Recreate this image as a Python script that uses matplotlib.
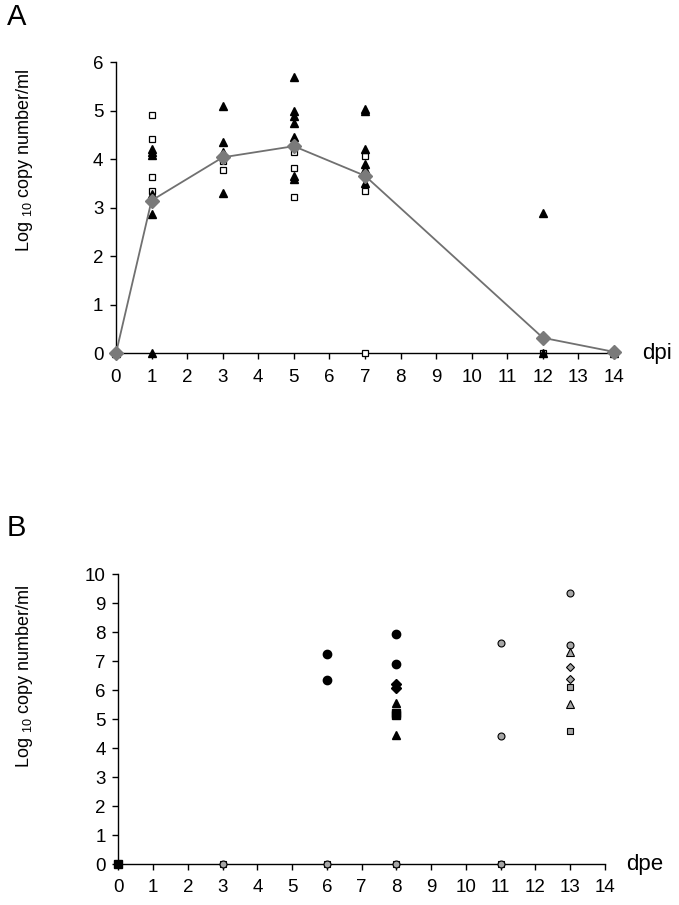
import matplotlib
matplotlib.use("Agg")
import matplotlib.pyplot as plt

plt.rcParams['font.family'] = ['Liberation Sans', 'DejaVu Sans']
plt.rcParams['mathtext.fontset'] = 'custom'
plt.rcParams['mathtext.rm'] = 'Liberation Sans'

# Panel A: dpi, individual values (triangles / open squares) and mean
tri_a_days = [0, 1, 1, 1, 1, 1, 1, 3, 3, 3, 3, 3, 5, 5, 5, 5, 5, 5, 5, 7, 7, 7, 7, 7, 7, 12, 12, 14]
tri_a_vals = [0, 4.22, 4.16, 4.09, 3.29, 2.88, 0, 5.10, 4.35, 4.16, 4.06, 3.30,
              5.70, 5.00, 4.90, 4.75, 4.46, 3.65, 3.59, 5.04, 5.00, 4.21, 3.90, 3.80, 3.51,
              2.89, 0, 0]
sq_a_days = [0, 1, 1, 1, 1, 3, 3, 5, 5, 5, 7, 7, 7, 12, 14]
sq_a_vals = [0, 4.92, 4.42, 3.63, 3.34, 3.97, 3.77, 4.16, 3.82, 3.23, 4.07, 3.34, 0, 0, 0]
mean_days = [0, 1, 3, 5, 7, 12, 14]
mean_vals = [0, 3.15, 4.04, 4.27, 3.66, 0.32, 0.03]

# Panel B: dpe
blk_circ_days = [6, 6, 8, 8]
blk_circ_vals = [7.25, 6.34, 7.93, 6.92]
blk_diam_days = [8, 8]
blk_diam_vals = [6.20, 6.09]
blk_tri_days = [8, 8]
blk_tri_vals = [5.57, 4.45]
blk_sq_days = [0, 8, 8]
blk_sq_vals = [0, 5.20, 5.13]
gry_sq_days = [3, 6, 8, 11, 13, 13]
gry_sq_vals = [0, 0, 0, 0, 6.10, 4.60]
gry_circ_days = [3, 6, 8, 11, 11, 11, 13, 13]
gry_circ_vals = [0, 0, 0, 0, 7.64, 4.43, 9.34, 7.56]
gry_tri_days = [13, 13]
gry_tri_vals = [7.33, 5.52]
gry_diam_days = [13, 13]
gry_diam_vals = [6.81, 6.39]

fig = plt.figure(figsize=(6.79, 9.05), dpi=100)
ax1 = fig.add_axes([0.1708, 0.6096, 0.7335, 0.3216])
ax2 = fig.add_axes([0.1742, 0.0453, 0.7168, 0.3201])

gray = '#a6a6a6'

def style(ax, ymax):
    ax.set_xlim(0, 14)
    ax.set_ylim(0, ymax)
    ax.set_xticks(range(0, 15))
    ax.set_yticks(range(0, ymax + 1))
    for s in ['top', 'right']:
        ax.spines[s].set_visible(False)
    for s in ['left', 'bottom']:
        ax.spines[s].set_linewidth(1.0)
    ax.tick_params(direction='out', length=4, width=1.0, labelsize=13.5)
    ax.tick_params(axis='x', pad=7)
    ax.tick_params(axis='y', pad=5)
    ax.set_facecolor('none')

style(ax1, 6)
ax1.plot(sq_a_days, sq_a_vals, 's', ms=5, mfc='white', mec='black', mew=0.9, ls='none', clip_on=False, zorder=3)
ax1.plot(tri_a_days, tri_a_vals, '^', ms=6, color='black', ls='none', clip_on=False, zorder=4)
ax1.plot(mean_days, mean_vals, '-', color='#707070', lw=1.3, marker='D', ms=7,
         mfc='#7a7a7a', mec='#7a7a7a', clip_on=False, zorder=5)
ax1.text(14.8, 0, 'dpi', fontsize=16, va='center', ha='left')

style(ax2, 10)
ax2.plot(gry_sq_days, gry_sq_vals, 's', ms=5, mfc=gray, mec='black', mew=0.8, ls='none', clip_on=False, zorder=3)
ax2.plot(gry_circ_days, gry_circ_vals, 'o', ms=5, mfc=gray, mec='black', mew=0.8, ls='none', clip_on=False, zorder=4)
ax2.plot(gry_tri_days, gry_tri_vals, '^', ms=5.5, mfc=gray, mec='black', mew=0.8, ls='none', clip_on=False, zorder=4)
ax2.plot(gry_diam_days, gry_diam_vals, 'D', ms=4.5, mfc=gray, mec='black', mew=0.8, ls='none', clip_on=False, zorder=4)
ax2.plot(blk_circ_days, blk_circ_vals, 'o', ms=6, color='black', ls='none', clip_on=False, zorder=4)
ax2.plot(blk_diam_days, blk_diam_vals, 'D', ms=5, color='black', ls='none', clip_on=False, zorder=4)
ax2.plot(blk_tri_days, blk_tri_vals, '^', ms=6, color='black', ls='none', clip_on=False, zorder=4)
ax2.plot(blk_sq_days, blk_sq_vals, 's', ms=5.5, color='black', ls='none', clip_on=False, zorder=4)
ax2.text(14.6, 0, 'dpe', fontsize=16, va='center', ha='left')

ylab = r'Log $\mathregular{_{10}}$ copy number/ml'
fig.text(0.036, 1 - 160 / 905, ylab, rotation=90, fontsize=13, va='center', ha='center')
fig.text(0.036, 1 - 676 / 905, ylab, rotation=90, fontsize=13, va='center', ha='center')

fig.text(0.010, 1 - 17 / 905, 'A', fontsize=21, va='center', ha='left')
fig.text(0.010, 1 - 528 / 905, 'B', fontsize=21, va='center', ha='left')

fig.savefig('out.png', dpi=100)
